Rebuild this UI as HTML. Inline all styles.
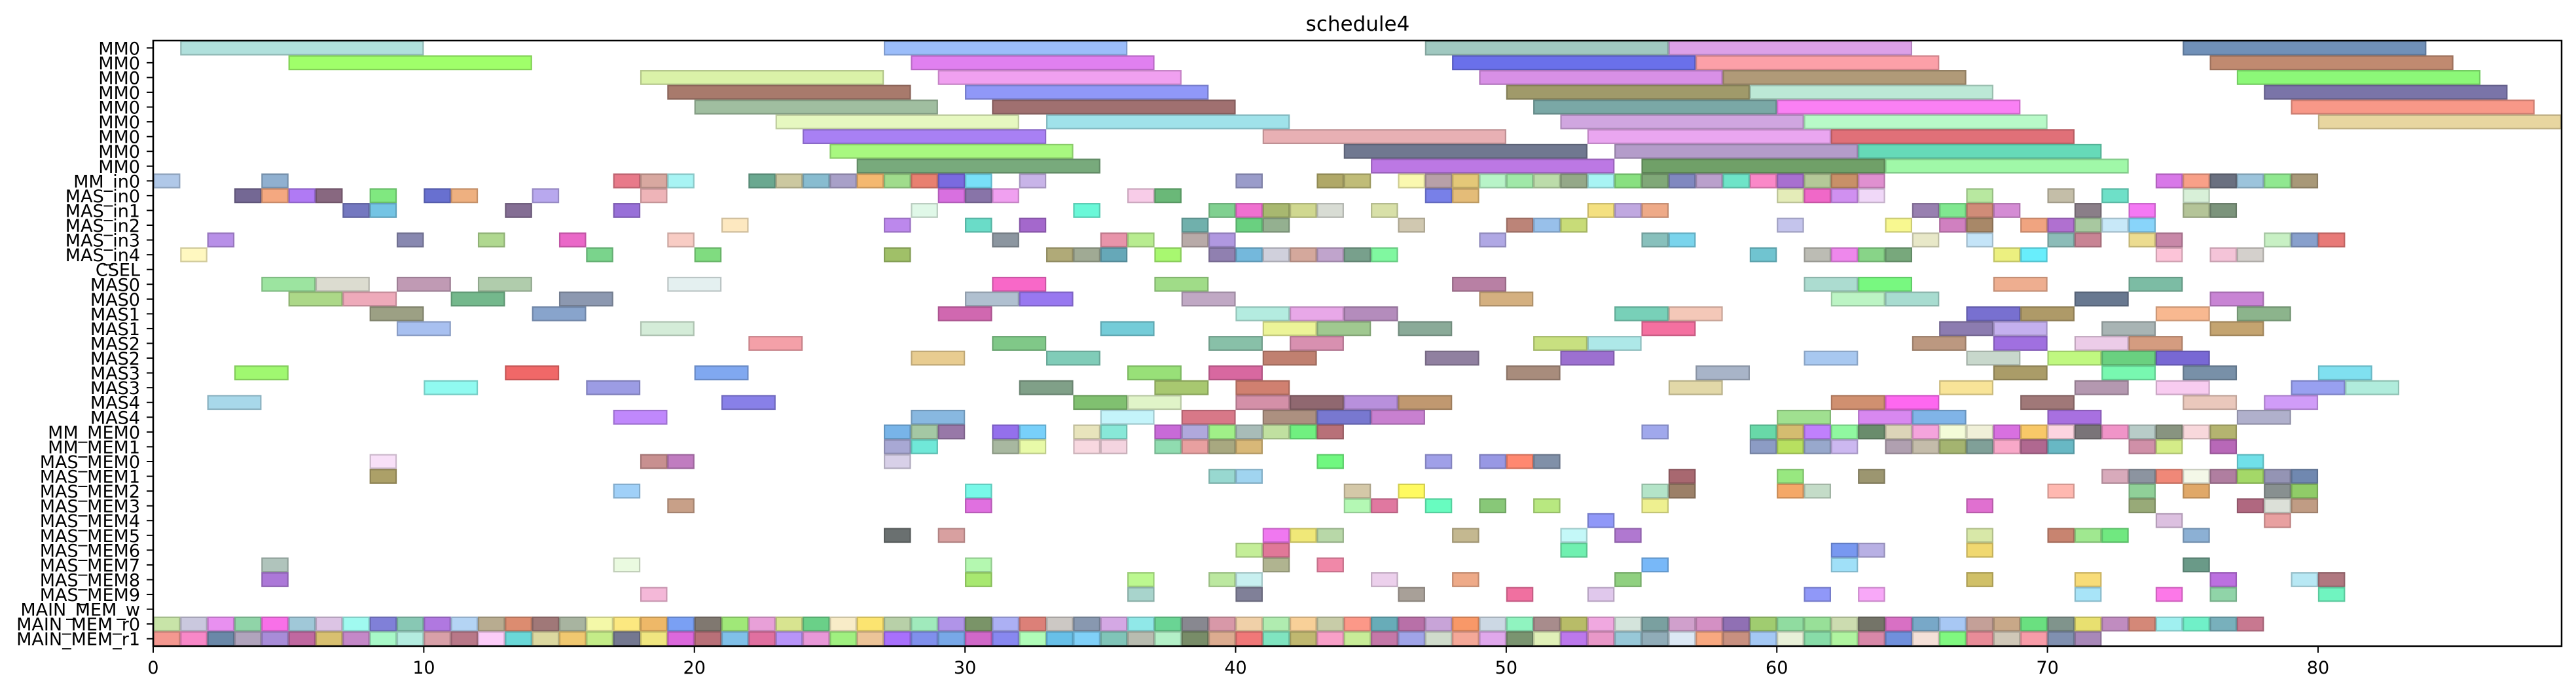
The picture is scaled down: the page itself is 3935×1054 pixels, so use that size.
<!DOCTYPE html>
<html>
<head>
<meta charset="utf-8">
<style>
  html,body{margin:0;padding:0;background:#fff;}
  body{width:3935px;height:1054px;overflow:hidden;}
  svg{display:block;}
  text{font-family:"DejaVu Sans","Liberation Sans",sans-serif;fill:#000;}
</style>
</head>
<body>
<svg id="chart" width="3935" height="1054" viewBox="0 0 3935 1054" xmlns="http://www.w3.org/2000/svg">
  <text x="2074" y="47" font-size="31" text-anchor="middle">schedule4</text>
  <g id="bars"></g>
  <g id="yaxis"></g>
  <g id="xaxis"></g>
  <rect x="234" y="62" width="3679" height="925" fill="none" stroke="#000" stroke-width="2.5"/>
</svg>
<script>
const rowLabels = ["MM0","MM0","MM0","MM0","MM0","MM0","MM0","MM0","MM0","MM_in0","MAS_in0","MAS_in1","MAS_in2","MAS_in3","MAS_in4","CSEL","MAS0","MAS0","MAS1","MAS1","MAS2","MAS2","MAS3","MAS3","MAS4","MAS4","MM_MEM0","MM_MEM1","MAS_MEM0","MAS_MEM1","MAS_MEM2","MAS_MEM3","MAS_MEM4","MAS_MEM5","MAS_MEM6","MAS_MEM7","MAS_MEM8","MAS_MEM9","MAIN_MEM_w","MAIN_MEM_r0","MAIN_MEM_r1"];
const xTicks = [0,10,20,30,40,50,60,70,80];
const xMax = 89;
const longDur = 9;
const midDur = 2;
const unitDur = 1;

// [row, start, color] with duration longDur
const mmBars = [
[0,1,'#b0e0dc'],[0,27,'#9bbdfa'],[0,47,'#a0c8c0'],[0,56,'#dca0e8'],[0,75,'#7090b8'],
[1,5,'#a0ff6a'],[1,28,'#e080f0'],[1,48,'#6a70ea'],[1,57,'#fca0a8'],[1,76,'#c08a70'],
[2,18,'#daf2a8'],[2,29,'#f0a0f0'],[2,49,'#d890e6'],[2,58,'#b09a78'],[2,77,'#8cf878'],
[3,19,'#a87a6c'],[3,30,'#9098f8'],[3,50,'#a09a6a'],[3,59,'#bce8d6'],[3,78,'#7a74a8'],
[4,20,'#a0bea0'],[4,31,'#a07070'],[4,51,'#7aa8a6'],[4,60,'#fa80f4'],[4,79,'#f89888'],
[5,23,'#e6f8c0'],[5,33,'#a0e2ea'],[5,52,'#d0a6e0'],[5,61,'#b8fac8'],[5,80,'#e8d6a0'],
[6,24,'#a880f4'],[6,41,'#e8b0b4'],[6,53,'#eaa6f0'],[6,62,'#e07078'],
[7,25,'#a8f880'],[7,44,'#707890'],[7,54,'#b49cca'],[7,63,'#66dab8'],
[8,26,'#78aa7c'],[8,45,'#bc78e4'],[8,55,'#70a068'],[8,64,'#a0f8a8']
];

// [row, start, color] with duration midDur
const masBars = [
[16,4,'#9ce4a0'],[16,6,'#dcdcd0'],[16,9,'#c09ab4'],[16,12,'#b0ccac'],[16,19,'#e4f0f0'],[16,31,'#f868c8'],[16,37,'#a0dc88'],[16,48,'#b880a4'],[16,61,'#acdcd0'],[16,63,'#78f880'],[16,68,'#eeae90'],[16,73,'#7cbca4'],
[17,5,'#acd888'],[17,7,'#eeaaba'],[17,11,'#74b88c'],[17,15,'#8c98b0'],[17,30,'#b0c0d0'],[17,32,'#9878f0'],[17,38,'#c0a8c4'],[17,49,'#d4b080'],[17,62,'#bcf4c4'],[17,64,'#a8dcd0'],[17,71,'#687890'],[17,76,'#c884d4'],
[18,8,'#9ca084'],[18,14,'#88a4cc'],[18,29,'#d068b0'],[18,40,'#b4ece0'],[18,42,'#e8a8e8'],[18,44,'#b48cbc'],[18,54,'#78d0b8'],[18,56,'#f4c8b8'],[18,67,'#7870d0'],[18,69,'#ae9a68'],[18,74,'#f8b890'],[18,77,'#8cb48c'],
[19,9,'#a8c0f0'],[19,18,'#d4ecd8'],[19,35,'#74ccd8'],[19,41,'#ecf498'],[19,43,'#a0c890'],[19,46,'#8aaa98'],[19,55,'#f470a0'],[19,66,'#8c7cb0'],[19,68,'#c4b0ee'],[19,72,'#a8b4b4'],[19,76,'#c4a470'],
[20,22,'#f4a0a8'],[20,31,'#80c888'],[20,39,'#88c0a8'],[20,42,'#d890b0'],[20,51,'#c8e080'],[20,53,'#aee8e8'],[20,65,'#bc9880'],[20,68,'#a070e0'],[20,71,'#eccce8'],[20,73,'#d49c80'],
[21,28,'#e8cc90'],[21,33,'#80ccb8'],[21,41,'#c08070'],[21,47,'#9080a0'],[21,52,'#9c70d0'],[21,61,'#a8c8f0'],[21,67,'#c8d8cc'],[21,70,'#c0f880'],[21,72,'#6ad080'],[21,74,'#7868d4'],
[22,3,'#a0f870'],[22,13,'#f06868'],[22,20,'#80a8f0'],[22,36,'#98e078'],[22,39,'#d868a0'],[22,50,'#a88c7c'],[22,57,'#a8b4c8'],[22,68,'#aa9c68'],[22,72,'#78f8b0'],[22,75,'#7890a8'],[22,80,'#80e0f0'],
[23,10,'#90faf0'],[23,16,'#9c9ce4'],[23,32,'#80a088'],[23,37,'#a8c870'],[23,40,'#d08070'],[23,56,'#e2d8a8'],[23,66,'#f8e498'],[23,71,'#b498b0'],[23,74,'#f8ccf0'],[23,79,'#98a0f0'],[23,81,'#b0ecdc'],
[24,2,'#a8d8ea'],[24,21,'#8880e8'],[24,34,'#80c070'],[24,36,'#e0f4c8'],[24,40,'#d490a8'],[24,42,'#906870'],[24,44,'#b890dc'],[24,46,'#c09870'],[24,62,'#d09070'],[24,64,'#fe68f0'],[24,69,'#a07878'],[24,75,'#eac8bc'],[24,78,'#d09cf8'],
[25,17,'#c088fc'],[25,28,'#88b8e0'],[25,35,'#c4f4fa'],[25,38,'#d87888'],[25,41,'#ac9080'],[25,43,'#7878d0'],[25,45,'#c880d0'],[25,60,'#a0e090'],[25,63,'#d888f0'],[25,65,'#80b4e8'],[25,70,'#a870e0'],[25,77,'#b0b0cc']
];

// [row, start, color] with duration unitDur (input rows)
const inBars = [
[9,0,'#b0c8e8'],[9,4,'#90b0d0'],[9,17,'#e87a8a'],[9,18,'#d8a8a0'],[9,19,'#a8f4f4'],[9,22,'#6aa890'],[9,23,'#ccc8a0'],[9,24,'#88bcd0'],[9,25,'#a8a0c8'],[9,26,'#f4b870'],[9,27,'#a0dc8c'],[9,28,'#e88070'],[9,29,'#7a6ae0'],[9,30,'#78e0f8'],[9,32,'#c8b4e8'],[9,40,'#9a9cca'],[9,43,'#b0a868'],[9,44,'#c0bc78'],[9,46,'#faf8b0'],[9,47,'#b8a0a8'],[9,48,'#e4c878'],[9,49,'#b8f4c8'],[9,50,'#a0e8a8'],[9,51,'#bcdcaa'],[9,52,'#94a888'],[9,53,'#a8f4f4'],[9,54,'#88e080'],[9,55,'#80a878'],[9,56,'#8088c0'],[9,57,'#baa0cc'],[9,58,'#6ee4c8'],[9,59,'#fa88c8'],[9,60,'#a870d0'],[9,61,'#b4c898'],[9,62,'#c89068'],[9,63,'#e090d0'],[9,74,'#d878e8'],[9,75,'#f8a088'],[9,76,'#6a7080'],[9,77,'#9cc4dc'],[9,78,'#90e890'],[9,79,'#a89878'],
[10,3,'#746894'],[10,4,'#f4a880'],[10,5,'#b07af4'],[10,6,'#886880'],[10,8,'#80e880'],[10,10,'#6870d0'],[10,11,'#eeb080'],[10,14,'#b8a8ee'],[10,18,'#eeb4b8'],[10,29,'#d870e0'],[10,30,'#8874a8'],[10,31,'#f0a0f0'],[10,36,'#f8cce8'],[10,37,'#6ab878'],[10,47,'#7880e8'],[10,48,'#e4bc78'],[10,60,'#e4ecb8'],[10,61,'#f068c8'],[10,62,'#d090f0'],[10,63,'#f0d8f8'],[10,67,'#b8e8a0'],[10,70,'#c4bea8'],[10,72,'#6ee0c8'],[10,75,'#d8f0d8'],
[11,7,'#7478c0'],[11,8,'#74c4e4'],[11,13,'#846e94'],[11,17,'#9870d8'],[11,28,'#e0f8e8'],[11,34,'#6af8d8'],[11,39,'#80d090'],[11,40,'#f070d0'],[11,41,'#a8b870'],[11,42,'#d0d890'],[11,43,'#d8dcd4'],[11,45,'#d8e0a8'],[11,53,'#f4e080'],[11,54,'#c0a8e0'],[11,55,'#eeaa88'],[11,65,'#9880b0'],[11,66,'#80e890'],[11,67,'#d08c78'],[11,68,'#d48cd4'],[11,71,'#8a7e88'],[11,73,'#f478f4'],[11,75,'#b4c498'],[11,76,'#7c947c'],
[12,21,'#fde8c0'],[12,27,'#bc88ec'],[12,30,'#6adcc8'],[12,32,'#a468cc'],[12,38,'#70b0ac'],[12,40,'#6ad080'],[12,41,'#94b090'],[12,46,'#d0c8b0'],[12,50,'#bc8478'],[12,51,'#98c0ea'],[12,52,'#c8dc78'],[12,60,'#c4c4ec'],[12,64,'#f8f890'],[12,66,'#d080c0'],[12,67,'#a88868'],[12,69,'#f0a480'],[12,70,'#b070d0'],[12,71,'#a8c8a0'],[12,72,'#c8e8f8'],[12,73,'#88d4fa'],
[13,2,'#b890e8'],[13,9,'#8888b0'],[13,12,'#b0d890'],[13,15,'#ea68c8'],[13,19,'#f8ccc4'],[13,31,'#8c96a0'],[13,35,'#e894aa'],[13,36,'#b8ec90'],[13,38,'#b8aaa8'],[13,39,'#b098e0'],[13,49,'#b0a8e4'],[13,55,'#88c0bc'],[13,56,'#7ad4ec'],[13,65,'#e8e8c8'],[13,67,'#c4e4f8'],[13,70,'#8cbcb8'],[13,71,'#c88494'],[13,73,'#ecdc90'],[13,74,'#c888a8'],[13,78,'#c8f0c4'],[13,79,'#88a0cc'],[13,80,'#e87a78'],
[14,1,'#fff8c0'],[14,16,'#7ad48c'],[14,20,'#80dc80'],[14,27,'#a0c068'],[14,33,'#b0aa78'],[14,34,'#a0aa94'],[14,35,'#66a8b8'],[14,37,'#a8f870'],[14,39,'#9080b0'],[14,40,'#74b8dc'],[14,41,'#d0d0dc'],[14,42,'#d4a89c'],[14,43,'#c0a4cc'],[14,44,'#78a08c'],[14,45,'#80f8a0'],[14,59,'#70c4d0'],[14,61,'#bcbcb4'],[14,62,'#ee88ec'],[14,63,'#88d488'],[14,64,'#78a87c'],[14,68,'#ecf080'],[14,69,'#68eefc'],[14,74,'#fcc4d8'],[14,76,'#f4c4d8'],[14,77,'#d4d0cc']
];

// [row, start, color] with duration unitDur (memory rows)
const memBars = [
[26,27,'#78b4e8'],[26,28,'#a4c8a4'],[26,29,'#9878a8'],[26,31,'#9470ec'],[26,32,'#78d0fa'],[26,34,'#e8e4bc'],[26,35,'#88e8d8'],[26,37,'#c86ad8'],[26,38,'#b0a8dc'],[26,39,'#a0f088'],[26,40,'#a8bcb8'],[26,41,'#c0e0a0'],[26,42,'#70f080'],[26,43,'#b87078'],[26,55,'#a0a8ec'],[26,59,'#68d8a8'],[26,60,'#d4bc70'],[26,61,'#c080fc'],[26,62,'#90f8a0'],[26,63,'#6a8c6c'],[26,64,'#dcd4b8'],[26,65,'#f4a4dc'],[26,66,'#f4fcd8'],[26,67,'#f0f0d8'],[26,68,'#d870e0'],[26,69,'#f8c868'],[26,70,'#fcd4e0'],[26,71,'#7a7478'],[26,72,'#f094c8'],[26,73,'#b8ccc8'],[26,74,'#889480'],[26,75,'#f8d8dc'],[26,76,'#b4b470'],
[27,27,'#a8a8d4'],[27,28,'#70e8d8'],[27,31,'#a8b8a0'],[27,32,'#e8faa8'],[27,34,'#f8d8e0'],[27,35,'#f4d4e0'],[27,37,'#90dcb0'],[27,38,'#e8a0a0'],[27,39,'#a8a880'],[27,40,'#d8b878'],[27,59,'#8c9cc4'],[27,60,'#b8e060'],[27,61,'#98a8cc'],[27,62,'#ccb8f0'],[27,64,'#b0a0b0'],[27,65,'#c4bcaa'],[27,66,'#a4b470'],[27,67,'#80a098'],[27,68,'#f8a8c8'],[27,69,'#b06890'],[27,70,'#68b8c4'],[27,73,'#d090a8'],[27,74,'#d4ec88'],[27,76,'#b868b8'],
[28,8,'#f8e0f8'],[28,18,'#c89090'],[28,19,'#c07cc0'],[28,27,'#d8d0e8'],[28,43,'#70f880'],[28,47,'#a0a0e8'],[28,49,'#9898e4'],[28,50,'#ff8870'],[28,51,'#8090a8'],[28,77,'#70e0e8'],
[29,8,'#aca068'],[29,39,'#98d8d0'],[29,40,'#a0d4f0'],[29,56,'#a86870'],[29,60,'#98e880'],[29,63,'#9c9670'],[29,72,'#d8aabb'],[29,73,'#8c94a0'],[29,74,'#f08878'],[29,75,'#f4f8e8'],[29,76,'#b07ea0'],[29,77,'#a4d868'],[29,78,'#9494b4'],[29,79,'#7088b0'],
[30,17,'#a0d0f8'],[30,30,'#78f8e8'],[30,44,'#d4c8a8'],[30,46,'#fffa60'],[30,55,'#b4e4c8'],[30,56,'#9c8068'],[30,60,'#f4a868'],[30,61,'#c4dcc8'],[30,70,'#ffb8b0'],[30,73,'#90d098'],[30,75,'#e0a868'],[30,78,'#889090'],[30,79,'#90cc68'],
[31,19,'#c8a088'],[31,30,'#e070e0'],[31,44,'#b4f8b4'],[31,45,'#e078a0'],[31,47,'#68fcc0'],[31,49,'#88c878'],[31,51,'#b8e880'],[31,55,'#eef090'],[31,67,'#e070d0'],[31,73,'#98aa78'],[31,77,'#b06880'],[31,78,'#dce0d8'],[31,79,'#c09c84'],
[32,53,'#9098f8'],[32,74,'#dcc0e0'],[32,78,'#e8a0a0'],
[33,27,'#6a7070'],[33,29,'#d8a0a0'],[33,41,'#f078f0'],[33,42,'#f0e878'],[33,43,'#b8d8a8'],[33,48,'#c4b890'],[33,52,'#c4f8f8'],[33,54,'#b078d0'],[33,67,'#d8e8a8'],[33,70,'#c88470'],[33,71,'#a0e890'],[33,72,'#70e880'],[33,75,'#8cb0d4'],
[34,40,'#c4ee98'],[34,41,'#e07898'],[34,52,'#70f0b0'],[34,62,'#7898f0'],[34,63,'#b8b0e4'],[34,67,'#f0d870'],
[35,4,'#b0c4bc'],[35,17,'#eafae0'],[35,30,'#b4f8b0'],[35,41,'#b0b490'],[35,43,'#f088a8'],[35,55,'#78b8f8'],[35,62,'#a0e0f8'],[35,75,'#6a9a88'],
[36,4,'#ac78d8'],[36,30,'#a8e870'],[36,36,'#bcf890'],[36,39,'#bce8a0'],[36,40,'#c8f0f0'],[36,45,'#ecd0ec'],[36,48,'#eeaa88'],[36,54,'#90d080'],[36,67,'#d0c068'],[36,71,'#f8dc78'],[36,76,'#bc70e0'],[36,79,'#b8e8f4'],[36,80,'#b07880'],
[37,18,'#f4b8d8'],[37,36,'#a8d4cc'],[37,40,'#808098'],[37,46,'#a8a098'],[37,50,'#f070a0'],[37,53,'#e0c8ec'],[37,61,'#9098f8'],[37,63,'#f8a8f8'],[37,71,'#a8e4f8'],[37,74,'#fc78e8'],[37,76,'#90d4a8'],[37,80,'#70f4c0']
];

// consecutive unit slots from t=0
const mainR0Colors = ['#c8e4a8','#cac8de','#e890f0','#90d4a8','#f870e8','#a0c8d8','#dcc4e4','#a0faf0','#8080d8','#88c8b4','#b078e0','#b4d4f4','#b8ac90','#dc8c70','#a07878','#a8b4a0','#f4f8a8','#fce880','#eeb868','#7aa0f4','#807870','#a0e878',
'#e8a0d8','#d8e490','#6ad088','#f8ecc8','#fce470','#b8d0a8','#a0eabc','#b094e8','#7a9468','#acb0f4','#dc8078','#ccc8c4','#8898b0','#d4a8e4','#90e8e8','#6ad494','#888890','#d898a8','#f0d0a8','#b0ecb0','#f8d098','#c8cca8',
'#fc9888','#68acb8','#b870a8','#c8a4d8','#f89868','#ccd8e4','#90f4c0','#a88c8c','#b8bc68','#f0a8e0','#d4e4dc','#7aa0a0','#d0a0cc','#d490c4','#9070b4','#a0cc70','#90dca0','#98e098','#ccdcb0','#747468','#d870c4','#78a8c8',
'#a8c8f4','#c4a098','#c8a888','#6ae080','#80948c','#e8e070','#c08cc0','#d48878','#a0f0f0','#70f0c8','#78b0bc','#c87890'];
const mainR1Colors = ['#f49890','#f888c8','#6a88a8','#b0a4bc','#a88cd8','#c068a0','#d8c070','#c488c8','#a8f8c8','#b4ece0','#d8a0a8','#b87888','#fccdf8','#6ad8d8','#dcd8a0','#f0c870','#c4ec88','#747890','#f0e680','#dc68dc','#b87078','#80c0e8',
'#e070a0','#b894f8','#e898d8','#a0f080','#ecc498','#a870fc','#8090ec','#78a8e8','#d068c8','#8888f0','#b0fcb8','#68c0e8','#80d0f8','#80c4b8','#b8bcb0','#b4f0c8','#788c68','#dcac90','#f07878','#80e4c0','#c0b870','#f8a0c8',
'#c8ec98','#c478a8','#a0a4e8','#d0dccc','#f4a898','#e0a8ec','#7a9470','#e0f0b8','#bc78ec','#e898c8','#98c8d8','#90acb8','#dce8f4','#f8a880','#c89080','#a4c8f4','#e8f0d8','#88dca8','#b0f4a0','#d888a8','#7090dc','#f4e0d8',
'#80f880','#e88c98','#d0c8b8','#f89ca8','#8090b0','#a888b8'];
const mainR0Row = 39;
const mainR1Row = 40;

// ---- scales ----
const plotL = 234, plotR = 3913, plotT = 62, plotB = 987;
const nRows = rowLabels.length;
function xScale(t){ return plotL + (t / xMax) * (plotR - plotL); }
function rowH(){ return (plotB - plotT) / nRows; }
function yTop(r){ return plotT + r * rowH(); }
function yMid(r){ return yTop(r) + rowH() / 2; }

function darken(hex, f){
  const n = parseInt(hex.slice(1),16);
  const r = Math.round(((n>>16)&255)*f), g = Math.round(((n>>8)&255)*f), b = Math.round((n&255)*f);
  return 'rgb('+r+','+g+','+b+')';
}

const NS = 'http://www.w3.org/2000/svg';
const barsG = document.getElementById('bars');
function drawBar(row, start, dur, color){
  const rect = document.createElementNS(NS,'rect');
  const x0 = xScale(start), x1 = xScale(start + dur);
  rect.setAttribute('x', x0 + 1);
  rect.setAttribute('y', yTop(row) + 1);
  rect.setAttribute('width', Math.max(0, x1 - x0 - 2));
  rect.setAttribute('height', rowH() - 2);
  rect.setAttribute('fill', color);
  rect.setAttribute('stroke', darken(color, 0.82));
  rect.setAttribute('stroke-width', '2.2');
  
  
  barsG.appendChild(rect);
}
mmBars.forEach(b => drawBar(b[0], b[1], longDur, b[2]));
masBars.forEach(b => drawBar(b[0], b[1], midDur, b[2]));
inBars.forEach(b => drawBar(b[0], b[1], unitDur, b[2]));
memBars.forEach(b => drawBar(b[0], b[1], unitDur, b[2]));
mainR0Colors.forEach((c,i) => drawBar(mainR0Row, i, unitDur, c));
mainR1Colors.forEach((c,i) => drawBar(mainR1Row, i, unitDur, c));

// ---- y axis ----
const yG = document.getElementById('yaxis');
rowLabels.forEach((lab, r) => {
  const tk = document.createElementNS(NS,'line');
  tk.setAttribute('x1', plotL - 10); tk.setAttribute('x2', plotL);
  tk.setAttribute('y1', yMid(r)); tk.setAttribute('y2', yMid(r));
  tk.setAttribute('stroke', '#000'); tk.setAttribute('stroke-width', '2');
  
  
  yG.appendChild(tk);
  const t = document.createElementNS(NS,'text');
  t.setAttribute('x', plotL - 20);
  t.setAttribute('y', yMid(r) + 10);
  t.setAttribute('font-size', '27');
  t.setAttribute('text-anchor', 'end');
  t.textContent = lab;
  
  
  yG.appendChild(t);
});

// ---- x axis ----
const xG = document.getElementById('xaxis');
xTicks.forEach(v => {
  const tk = document.createElementNS(NS,'line');
  tk.setAttribute('x1', xScale(v)); tk.setAttribute('x2', xScale(v));
  tk.setAttribute('y1', plotB); tk.setAttribute('y2', plotB + 10);
  tk.setAttribute('stroke', '#000'); tk.setAttribute('stroke-width', '2');
  
  
  xG.appendChild(tk);
  const t = document.createElementNS(NS,'text');
  t.setAttribute('x', xScale(v));
  t.setAttribute('y', plotB + 42);
  t.setAttribute('font-size', '27');
  t.setAttribute('text-anchor', 'middle');
  t.textContent = String(v);
  
  
  xG.appendChild(t);
});
</script>
</body>
</html>
